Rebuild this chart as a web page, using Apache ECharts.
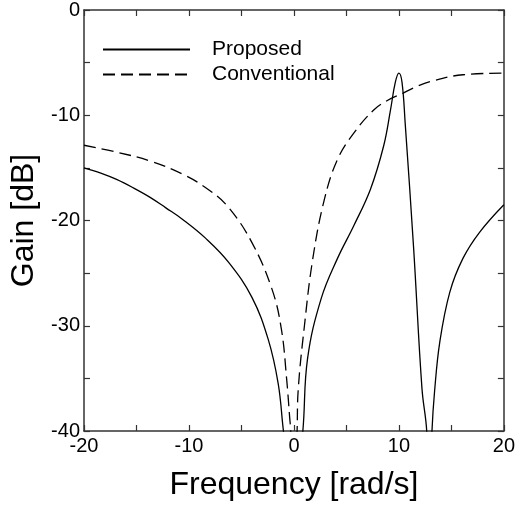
<!DOCTYPE html>
<html>
<head>
<meta charset="utf-8">
<script src="https://cdn.jsdelivr.net/npm/echarts@6/dist/echarts.min.js"></script>
<style>
  html, body { margin: 0; padding: 0; background: #fff; }
  #chart { width: 518px; height: 506px; }
</style>
</head>
<body>
<div id="chart"></div>
<script>
var xTicks = [-20, -10, 0, 10, 20];
var yTicks = [-40, -30, -20, -10, 0];

// Proposed (solid)
var proposedX = [-20, -18.4, -16.9, -15.3, -13.7, -12.2, -10.6, -8.4, -6.2, -4.0, -2.45, -1.5, -1.0, 0, 0.85, 1.3, 2.6, 4.15, 5.7, 7.3, 8.55, 9.2, 9.65, 10.0, 10.3, 10.6, 11.4, 12.2, 12.65, 12.9, 13.15, 13.4, 13.9, 14.85, 16.1, 17.7, 20];
var proposedY = [-15.0, -15.5, -16.1, -16.9, -17.8, -18.8, -19.9, -21.7, -24.0, -27.3, -31.3, -35.5, -40, -48, -40, -33.1, -27.4, -23.6, -20.5, -17.0, -12.9, -9.5, -6.9, -6.0, -6.9, -10.8, -22.6, -36.0, -40, -48, -40, -36.2, -31.5, -26.8, -23.6, -21.1, -18.5];

// Conventional (dashed)
var convX = [-20, -16.9, -13.7, -10.6, -8.1, -6.2, -4.0, -2.1, -1.2, -0.7, -0.4, -0.3, 0, 0.3, 0.4, 1.0, 1.8, 2.9, 4.15, 5.7, 7.6, 8.9, 10.4, 11.4, 13.0, 16.1, 20];
var convY = [-12.85, -13.5, -14.35, -15.6, -17.1, -18.8, -22.1, -26.5, -30.3, -35.0, -38.8, -40, -48, -40, -36.2, -30.0, -23.6, -18.0, -14.2, -11.7, -9.5, -8.6, -7.9, -7.4, -6.8, -6.15, -6.0];

function pairs(xs, ys) {
  return xs.map(function (x, i) { return [x, ys[i]]; });
}

var font = "Liberation Sans, Arial, sans-serif";
var axisColor = "#333";

function frameAxis(extra) {
  var a = {
    type: "value",
    axisLine: { show: true, onZero: false, lineStyle: { color: axisColor, width: 1.5 } },
    axisTick: { show: true, inside: true, length: 6, lineStyle: { color: axisColor, width: 1.2 } },
    minorTick: { show: true, splitNumber: 2, length: 6, lineStyle: { color: axisColor, width: 1.2 } },
    splitLine: { show: false },
    minorSplitLine: { show: false }
  };
  for (var k in extra) a[k] = extra[k];
  return a;
}

var chart = echarts.init(document.getElementById("chart"));
chart.setOption({
  animation: false,
  grid: { left: 84, right: 10, top: 10, bottom: 73 },
  legend: {
    left: 102,
    top: 39,
    padding: 0,
    orient: "vertical",
    itemWidth: 87,
    itemHeight: 14,
    itemGap: 4,
    itemStyle: { opacity: 0 },
    textStyle: { fontFamily: font, fontSize: 21, lineHeight: 14, color: "#000", padding: [0, 0, 0, 17] },
    data: ["Proposed", "Conventional"]
  },
  xAxis: [
    frameAxis({
      position: "bottom", min: xTicks[0], max: xTicks[xTicks.length - 1], interval: 10,
      name: "Frequency [rad/s]", nameLocation: "middle", nameGap: 38,
      nameTextStyle: { fontFamily: font, fontSize: 32, color: "#000" },
      axisLabel: { margin: 5, fontFamily: font, fontSize: 20, color: "#000" }
    }),
    frameAxis({
      position: "top", min: xTicks[0], max: xTicks[xTicks.length - 1], interval: 10,
      axisLabel: { show: false }
    })
  ],
  yAxis: [
    frameAxis({
      position: "left", min: yTicks[0], max: yTicks[yTicks.length - 1], interval: 10,
      name: "Gain [dB]", nameLocation: "middle", nameGap: 42,
      nameTextStyle: { fontFamily: font, fontSize: 32, color: "#000" },
      axisLabel: { margin: 4, fontFamily: font, fontSize: 20, color: "#000" }
    }),
    frameAxis({
      position: "right", min: yTicks[0], max: yTicks[yTicks.length - 1], interval: 10,
      axisLabel: { show: false }
    })
  ],
  series: [
    {
      name: "Proposed",
      type: "line",
      data: pairs(proposedX, proposedY),
      symbol: "none",
      smooth: 0.4,
      clip: true,
      itemStyle: { color: "#000" },
      lineStyle: { color: "#000", width: 1.3 }
    },
    {
      name: "Conventional",
      type: "line",
      data: pairs(convX, convY),
      symbol: "none",
      smooth: 0.4,
      clip: true,
      itemStyle: { color: "#000" },
      lineStyle: { color: "#000", width: 1.3, type: [12, 6] }
    }
  ]
});
</script>
</body>
</html>
